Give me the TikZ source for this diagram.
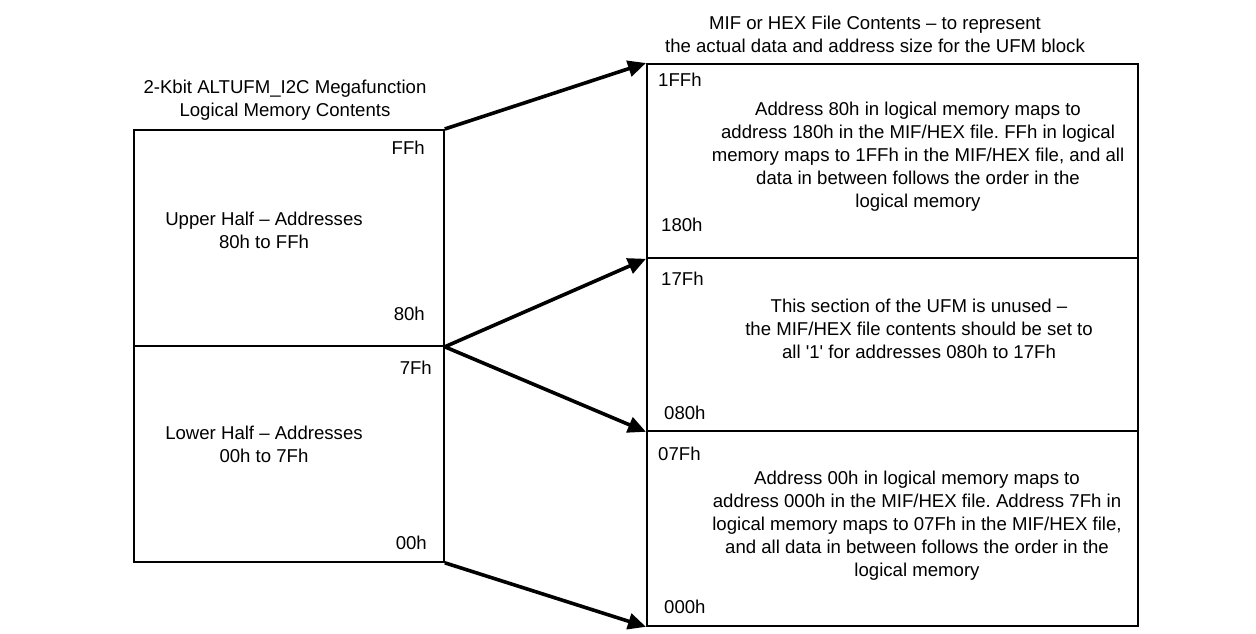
\documentclass[tikz,border=0pt]{standalone}
\usepackage{fontspec}
\setmainfont{Liberation Sans}[Ligatures=TeXOff]
\usetikzlibrary{arrows.meta}
\frenchspacing
\begin{document}
\begin{tikzpicture}[x=1pt,y=-1pt,
  txt/.style={font=\fontsize{18.6}{23}\selectfont, inner sep=0pt},
  ctxt/.style={txt, align=center},
  box/.style={draw, line width=1.8pt, inner sep=0pt, anchor=north west},
  arr/.style={line width=3.6pt, -{Triangle[length=18pt,width=16pt]}, shorten >=0pt}
]
\useasboundingbox (0,0) rectangle (1256,633);

% left memory (logical)
\node[box, minimum width=310pt, minimum height=216pt] (UH) at (133,129) {};
\node[box, minimum width=310pt, minimum height=216pt] (LH) at (133,345) {};

% right memory (MIF/HEX)
\node[box, minimum width=491pt, minimum height=194pt] (F1) at (646,63) {};
\node[box, minimum width=491pt, minimum height=173pt] (F2) at (646,257) {};
\node[box, minimum width=491pt, minimum height=195pt] (F3) at (646,430) {};

% titles
\node[ctxt] (tl) at (285,100) {2-Kbit ALTUFM\_I2C Megafunction\\Logical Memory Contents};
\node[ctxt] (tr) at (875,34) {MIF or HEX File Contents – to represent\\the actual data and address size for the UFM block};

% left texts
\node[ctxt] (uht) at (264,230) {Upper Half – Addresses\\80h to FFh};
\node[ctxt] (lht) at (264,444) {Lower Half – Addresses\\00h to 7Fh};
\node[txt, anchor=east] (aFF) at (425,148) {FFh};
\node[txt, anchor=east] (a80) at (425,314) {80h};
\node[txt, anchor=east] (a7F) at (432,368) {7Fh};
\node[txt, anchor=east] (a00) at (427,543) {00h};

% right texts
\node[txt, anchor=west] (b1FF) at (658,80) {1FFh};
\node[txt, anchor=west] (b180) at (661,225) {180h};
\node[txt, anchor=west] (b17F) at (661,279) {17Fh};
\node[txt, anchor=west] (b080) at (664,413) {080h};
\node[txt, anchor=west] (b07F) at (658,454) {07Fh};
\node[txt, anchor=west] (b000) at (664,607) {000h};

\node[ctxt] (p1) at (918,157) {Address 80h in logical memory maps to\\address 180h in the MIF/HEX file. FFh in logical\\memory maps to 1FFh in the MIF/HEX file, and all\\data in between follows the order in the\\logical memory};
\node[ctxt] (p2) at (919,329) {This section of the UFM is unused –\\the MIF/HEX file contents should be set to\\all '1' for addresses 080h to 17Fh};
\node[ctxt] (p3) at (917,526) {Address 00h in logical memory maps to\\address 000h in the MIF/HEX file. Address 7Fh in\\logical memory maps to 07Fh in the MIF/HEX file,\\ and all data in between follows the order in the\\logical memory};

% arrows
\draw[arr] (UH.north east) -- (F1.north west);
\draw[arr] (UH.south east) -- (F1.south west);
\draw[arr] (UH.south east) -- (F2.south west);
\draw[arr] (LH.south east) -- (F3.south west);
\end{tikzpicture}
\end{document}
